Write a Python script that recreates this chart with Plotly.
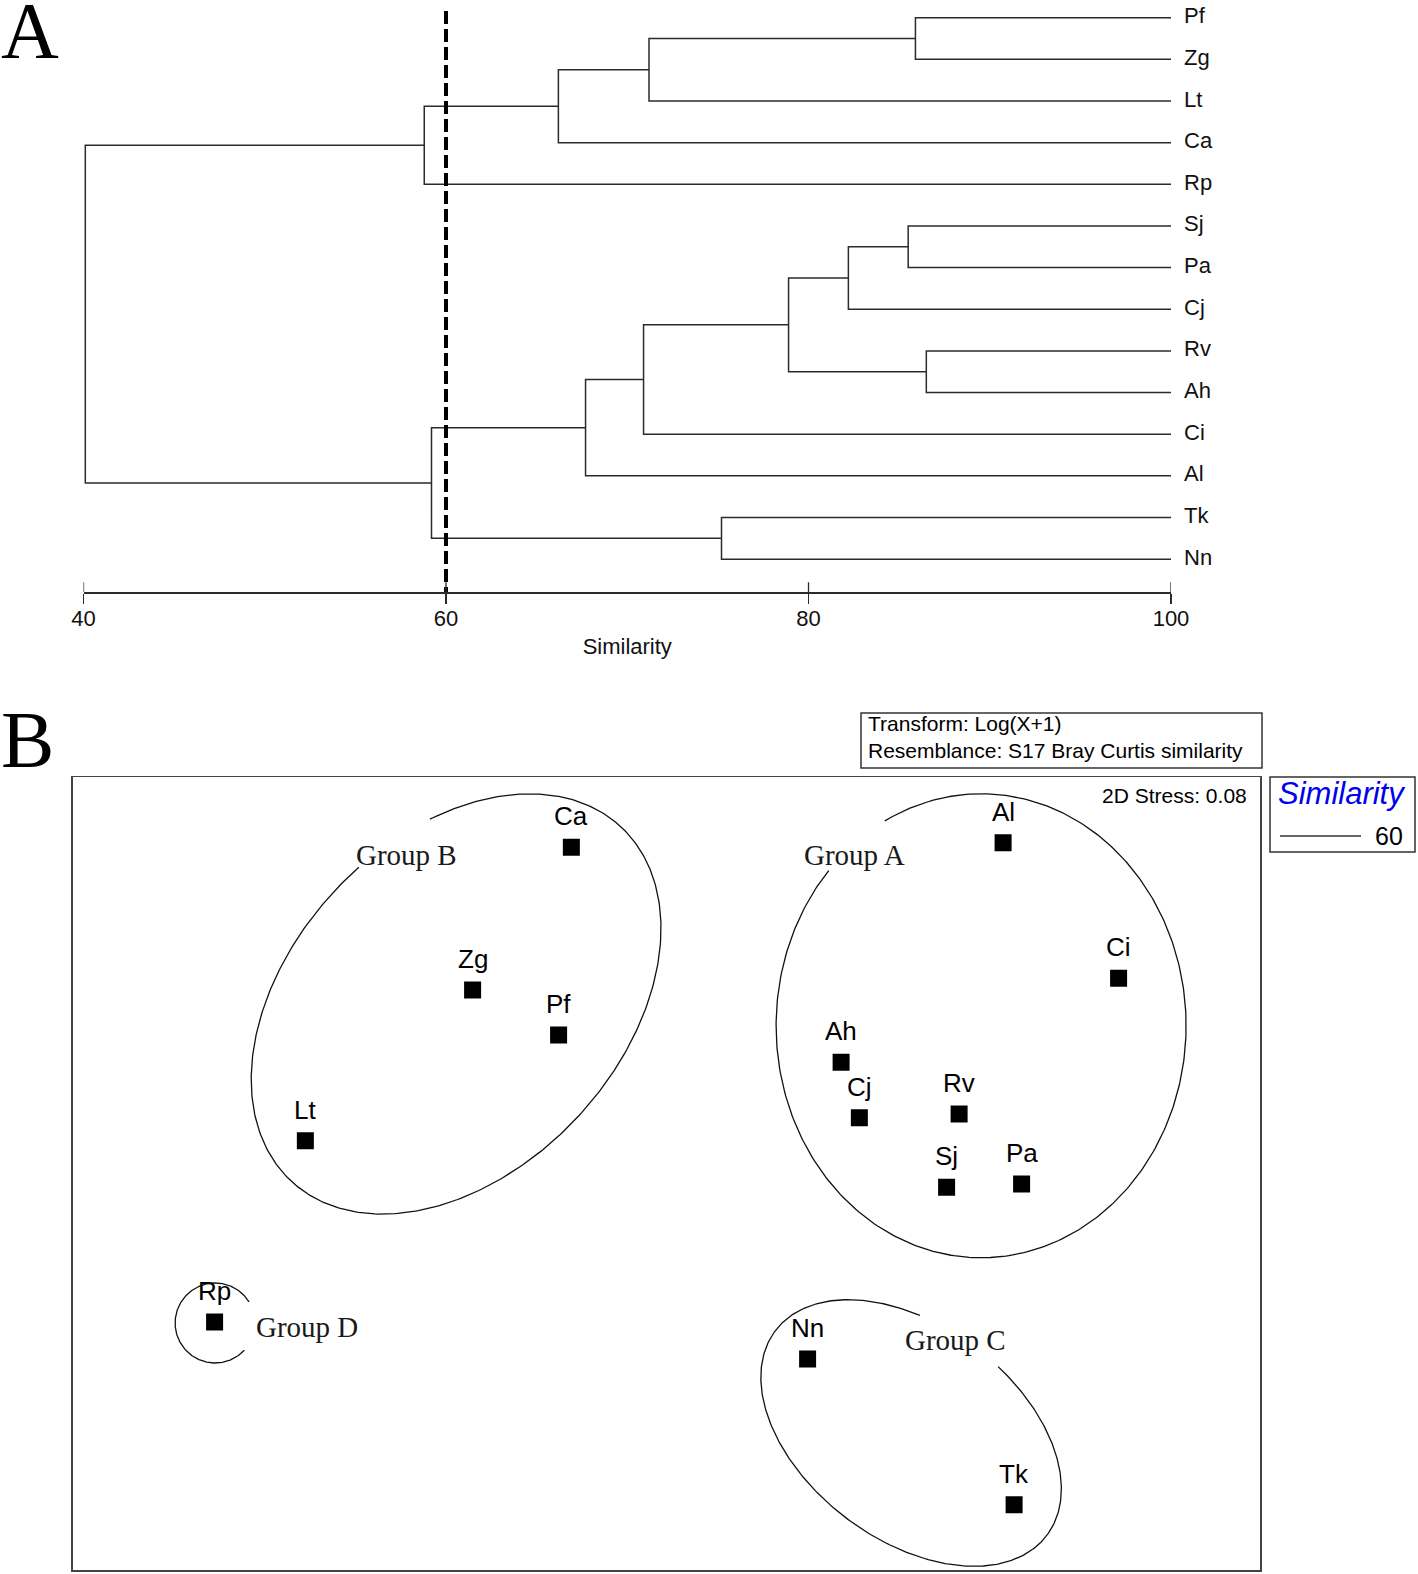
import numpy as np
import plotly.graph_objects as go

W, H = 1418, 1574

# ---------------- Panel A : cluster dendrogram (group average, Bray-Curtis) ----------------
LEAVES = ["Pf", "Zg", "Lt", "Ca", "Rp", "Sj", "Pa", "Cj", "Rv", "Ah", "Ci", "Al", "Tk", "Nn"]
# linkage: node ids 0..13 are leaves, 14.. are merges in order
MERGE_LEFT = [0, 14, 15, 16, 5, 18, 8, 19, 21, 22, 12, 23, 17]
MERGE_RIGHT = [1, 2, 3, 4, 6, 7, 9, 20, 10, 11, 13, 24, 25]
MERGE_SIM = [85.9, 71.2, 66.2, 58.8, 85.5, 82.2, 86.5, 78.9, 70.9, 67.7, 75.2, 59.2, 40.1]
CUTOFF = 60
X_TICKS = [40, 60, 80, 100]

# ---------------- Panel B : nMDS ordination ----------------
SITES = ["Ca", "Zg", "Pf", "Lt", "Rp", "Al", "Ci", "Ah", "Cj", "Rv", "Sj", "Pa", "Nn", "Tk"]
MDS1 = [-0.380, -0.775, -0.431, -1.444, -1.807, 1.347, 1.809, 0.699, 0.772, 1.171, 1.121, 1.421, 0.565, 1.391]
MDS2 = [1.305, 0.734, 0.554, 0.131, -0.594, 1.323, 0.781, 0.445, 0.223, 0.238, -0.055, -0.042, -0.742, -1.325]
STRESS = 0.08

GROUPS = ["Group A", "Group B", "Group C", "Group D"]
GROUP_CX = [1.259, -0.841, 0.979, -1.805]
GROUP_CY = [0.591, 0.678, -1.038, -0.598]
GROUP_RA = [0.82, 0.968, 0.68, 0.16]
GROUP_RB = [0.928, 0.664, 0.428, 0.16]
GROUP_ANGLE = [0, 47, -37, 0]
GROUP_GAP_START = [118, 61, 80, -43]
GROUP_GAP_END = [138, 82, 112, 32]
GROUP_LABEL_X = [0.754, -1.041, 1.155, -1.437]
GROUP_LABEL_Y = [1.274, 1.274, -0.666, -0.613]

SANS = "Liberation Sans, Arial, sans-serif"
SERIF = "Liberation Serif, Times New Roman, serif"
LINE = "#2b2b2b"

fig = go.Figure()

# ---- dendrogram geometry from linkage ----
n = len(LEAVES)
node_y = {i: float(i) for i in range(n)}
node_s = {i: 100.0 for i in range(n)}
dx, dy = [], []
for k, (l, r, s) in enumerate(zip(MERGE_LEFT, MERGE_RIGHT, MERGE_SIM)):
    dx += [node_s[l], s, s, node_s[r], None]
    dy += [node_y[l], node_y[l], node_y[r], node_y[r], None]
    node_y[n + k] = (node_y[l] + node_y[r]) / 2
    node_s[n + k] = s

# y axis (leaf index) calibration: leaf 0 at 17.7px, spacing 41.65px, axis line at 592.3px
Y_TOP = -17.7 / 41.65
Y_AXIS = (592.3 - 17.7) / 41.65

fig.add_trace(go.Scatter(x=dx, y=dy, mode="lines", line=dict(color=LINE, width=1.5),
                         xaxis="x", yaxis="y", hoverinfo="skip"))
# cut-off line
fig.add_trace(go.Scatter(x=[CUTOFF, CUTOFF], y=[-0.161, Y_AXIS], mode="lines",
                         line=dict(color="black", width=4, dash="13px,5px"),
                         xaxis="x", yaxis="y", hoverinfo="skip"))
# upper half of the crossing ticks
tx, ty = [], []
for t in X_TICKS:
    tx += [t, t, None]
    ty += [Y_AXIS, Y_AXIS - 10 / 41.65, None]
fig.add_trace(go.Scatter(x=tx, y=ty, mode="lines", line=dict(color=LINE, width=1.3),
                         xaxis="x", yaxis="y", hoverinfo="skip"))

annotations = []
for i, name in enumerate(LEAVES):
    annotations.append(dict(x=100, y=i, xref="x", yref="y", text=name, showarrow=False,
                            xanchor="left", yanchor="middle", xshift=11, yshift=2,
                            font=dict(family=SANS, size=22, color="#111")))

# ---- nMDS panel ----
for g in range(len(GROUPS)):
    th = np.deg2rad(GROUP_ANGLE[g])
    t = np.deg2rad(np.linspace(GROUP_GAP_END[g], GROUP_GAP_START[g] + 360, 400))
    a, b = GROUP_RA[g], GROUP_RB[g]
    ex = GROUP_CX[g] + a * np.cos(t) * np.cos(th) - b * np.sin(t) * np.sin(th)
    ey = GROUP_CY[g] + a * np.cos(t) * np.sin(th) + b * np.sin(t) * np.cos(th)
    fig.add_trace(go.Scatter(x=ex, y=ey, mode="lines", line=dict(color="#111", width=1.3),
                             xaxis="x2", yaxis="y2", hoverinfo="skip"))
    annotations.append(dict(x=GROUP_LABEL_X[g], y=GROUP_LABEL_Y[g], xref="x2", yref="y2",
                            text=GROUPS[g], showarrow=False, xanchor="center", yanchor="middle",
                            font=dict(family=SERIF, size=29, color="#1a1a1a")))

fig.add_trace(go.Scatter(x=MDS1, y=MDS2, mode="markers",
                         marker=dict(symbol="square", size=17, color="black"),
                         xaxis="x2", yaxis="y2", hoverinfo="skip"))
for s, x, y in zip(SITES, MDS1, MDS2):
    annotations.append(dict(x=x, y=y, xref="x2", yref="y2", text=s, showarrow=False,
                            xanchor="center", yanchor="middle",
                            yshift=31, font=dict(family=SANS, size=26, color="black")))


def px(x):
    return x / W


def py(y):
    return 1 - y / H


def paper_text(x, y, text, size, xanchor="center", family=SANS, color="black"):
    return dict(x=px(x), y=py(y), xref="paper", yref="paper", text=text, showarrow=False,
                xanchor=xanchor, yanchor="middle",
                font=dict(family=family, size=size, color=color))


annotations += [
    paper_text(30, 31, "A", 80, family=SERIF),
    paper_text(27, 739.5, "B", 80, family=SERIF),
    paper_text(866, 723.5, "Transform: Log(X+1)", 21, xanchor="left"),
    paper_text(866, 750.5, "Resemblance: S17 Bray Curtis similarity", 21, xanchor="left"),
    paper_text(1249, 795, f"2D Stress: {STRESS:.2f}", 21, xanchor="right"),
    paper_text(1342, 793, "<i>Similarity</i>", 31, color="#0000ee"),
    paper_text(1405, 836, str(CUTOFF), 25, xanchor="right"),
]

shapes = [
    dict(type="rect", xref="paper", yref="paper", x0=px(861), x1=px(1262), y0=py(768), y1=py(713),
         line=dict(color="#333", width=1.5)),
    dict(type="rect", xref="paper", yref="paper", x0=px(1270), x1=px(1415), y0=py(852), y1=py(777),
         line=dict(color="#333", width=1.5)),
    dict(type="line", xref="paper", yref="paper", x0=px(1280), x1=px(1361), y0=py(836), y1=py(836),
         line=dict(color="#333", width=1.3)),
]

BX0, BX1, BY0, BY1 = 72.7, 1260, 777, 1570
SC = 250.0
xr = (BX1 - BX0) / 2 / SC
yr = (BY1 - BY0) / 2 / SC

fig.update_layout(
    width=W, height=H, autosize=False,
    margin=dict(l=0, r=0, t=0, b=0, pad=0, autoexpand=False),
    paper_bgcolor="white", plot_bgcolor="white",
    showlegend=False,
    hovermode=False,
    xaxis=dict(domain=[83.5 / W, 1171 / W], range=[40, 100], anchor="y",
               tickvals=X_TICKS, ticks="outside", ticklen=10, tickwidth=1.3, tickcolor=LINE,
               ticklabelstandoff=-4,
               showline=True, linecolor=LINE, linewidth=1.5, showgrid=False, zeroline=False,
               tickfont=dict(family=SANS, size=22, color="#111"),
               title=dict(text="Similarity", font=dict(family=SANS, size=22, color="#111"), standoff=8)),
    yaxis=dict(domain=[1 - 592.3 / H, 1], range=[Y_AXIS, Y_TOP], anchor="x", visible=False),
    xaxis2=dict(domain=[BX0 / W, BX1 / W], range=[-xr, xr], anchor="y2",
                showline=True, mirror=True, linecolor="#444", linewidth=1.5,
                showticklabels=False, ticks="", showgrid=False, zeroline=False),
    yaxis2=dict(domain=[1 - BY1 / H, 1 - BY0 / H], range=[-yr, yr], anchor="x2",
                showline=True, mirror=True, linecolor="#444", linewidth=1.5,
                showticklabels=False, ticks="", showgrid=False, zeroline=False),
    annotations=annotations,
    shapes=shapes,
)

fig.write_html("out.html", config={"displayModeBar": False, "staticPlot": True},
               post_script="document.body.style.margin='0px';")
